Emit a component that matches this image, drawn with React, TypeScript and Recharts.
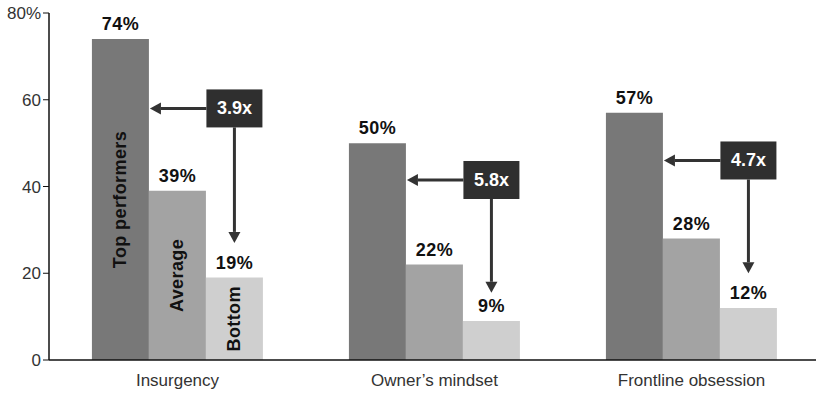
import { BarChart, Bar, XAxis, YAxis, LabelList } from "recharts";

const categories = ["Insurgency", "Owner\u2019s mindset", "Frontline obsession"];
const topPerformers = [74, 50, 57];
const average = [39, 22, 28];
const bottom = [19, 9, 12];
const seriesNames = ["Top performers", "Average", "Bottom"];
const multipliers = ["3.9x", "5.8x", "4.7x"];
// where the horizontal arrow sits and where the down arrow ends (in % units)
const arrowLevels = [58, 41.5, 46];
const arrowTips = [27, 15.5, 20];
const yTicks = [0, 20, 40, 60, 80];

const data = categories.map((name, i) => ({
  name,
  top: topPerformers[i],
  avg: average[i],
  bottom: bottom[i],
}));

const FONT = "'Liberation Sans', Arial, Helvetica, sans-serif";
const INK = "#333333";

function box(props: any) {
  const vb = props.viewBox ?? props;
  return { x: Number(vb.x), y: Number(vb.y), width: Number(vb.width), height: Number(vb.height) };
}

// rotated series name inside the first group's bars
function makeSeriesLabel(seriesIndex: number) {
  return (props: any) => {
    if (props.index !== 0) return null;
    const { x, y, width, height } = box(props);
    const cx = x + width / 2;
    const cy = y + height / 2;
    return (
      <text
        x={cx}
        y={cy}
        transform={`rotate(-90 ${cx} ${cy})`}
        textAnchor="middle"
        dominantBaseline="central"
        fontFamily={FONT}
        fontWeight="bold"
        fontSize={18}
        letterSpacing={0.4}
        fill="#111"
      >
        {seriesNames[seriesIndex]}
      </text>
    );
  };
}

// multiplier box with arrows, drawn relative to the "bottom" bar of each group
function Annotation(props: any) {
  const i = props.index;
  if (i == null || multipliers[i] == null) return null;
  const { x, y, width, height } = box(props);
  const base = y + height;
  const pxPerUnit = height / bottom[i];
  const levelY = base - arrowLevels[i] * pxPerUnit;
  const tipY = base - arrowTips[i] * pxPerUnit;
  const boxW = 56;
  const boxH = 38;
  const bx = x + width / 2 - boxW / 2;
  const by = levelY - boxH / 2;
  const leftTip = x - width + 1;
  const cx = x + width / 2;
  const head = 11;
  return (
    <g>
      <line x1={bx} y1={levelY} x2={leftTip + head} y2={levelY} stroke={INK} strokeWidth={3} />
      <polygon
        points={`${leftTip},${levelY} ${leftTip + head},${levelY - 6} ${leftTip + head},${levelY + 6}`}
        fill={INK}
      />
      <line x1={cx} y1={by + boxH} x2={cx} y2={tipY - head} stroke={INK} strokeWidth={3} />
      <polygon points={`${cx},${tipY} ${cx - 6},${tipY - head} ${cx + 6},${tipY - head}`} fill={INK} />
      <rect x={bx} y={by} width={boxW} height={boxH} fill="#2f2f2f" />
      <text
        x={bx + boxW / 2}
        y={levelY}
        textAnchor="middle"
        dominantBaseline="central"
        fontFamily={FONT}
        fontWeight="bold"
        fontSize={18}
        fill="#fff"
      >
        {multipliers[i]}
      </text>
    </g>
  );
}

const pct = (v: any) => `${v}%`;
const valueLabel = {
  fontFamily: FONT,
  fontWeight: "bold",
  fontSize: 18,
  letterSpacing: 0.5,
  fill: "#111",
} as const;

export default function App() {
  return (
    <div style={{ position: "absolute", left: 0, top: 0, background: "#fff" }}>
      <BarChart
        width={816}
        height={413}
        data={data}
        margin={{ top: 13, right: -4, bottom: 23, left: 0 }}
        barCategoryGap="16.7%"
        barGap={0}
      >
        <XAxis
          dataKey="name"
          height={30}
          tickLine={false}
          axisLine={{ stroke: "#111", strokeWidth: 1.5 }}
          tick={{ fontFamily: FONT, fontSize: 17, fill: "#333" }}
          tickMargin={8}
        />
        <YAxis
          width={49}
          domain={[0, 80]}
          ticks={yTicks}
          interval={0}
          axisLine={{ stroke: "#111", strokeWidth: 1.5 }}
          tickLine={{ stroke: "#111" }}
          tickSize={6}
          tickMargin={2}
          tick={{ fontFamily: FONT, fontSize: 17, fill: "#333" }}
          tickFormatter={(v: number) => (v === 80 ? "80%" : `${v}`)}
        />
        <Bar dataKey="top" fill="#787878" isAnimationActive={false}>
          <LabelList dataKey="top" position="top" offset={9} formatter={pct} style={valueLabel} />
          <LabelList dataKey="top" content={makeSeriesLabel(0)} />
        </Bar>
        <Bar dataKey="avg" fill="#a3a3a3" isAnimationActive={false}>
          <LabelList dataKey="avg" position="top" offset={9} formatter={pct} style={valueLabel} />
          <LabelList dataKey="avg" content={makeSeriesLabel(1)} />
        </Bar>
        <Bar dataKey="bottom" fill="#cfcfcf" isAnimationActive={false}>
          <LabelList dataKey="bottom" position="top" offset={9} formatter={pct} style={valueLabel} />
          <LabelList dataKey="bottom" content={makeSeriesLabel(2)} />
          <LabelList dataKey="bottom" content={Annotation} />
        </Bar>
      </BarChart>
    </div>
  );
}
